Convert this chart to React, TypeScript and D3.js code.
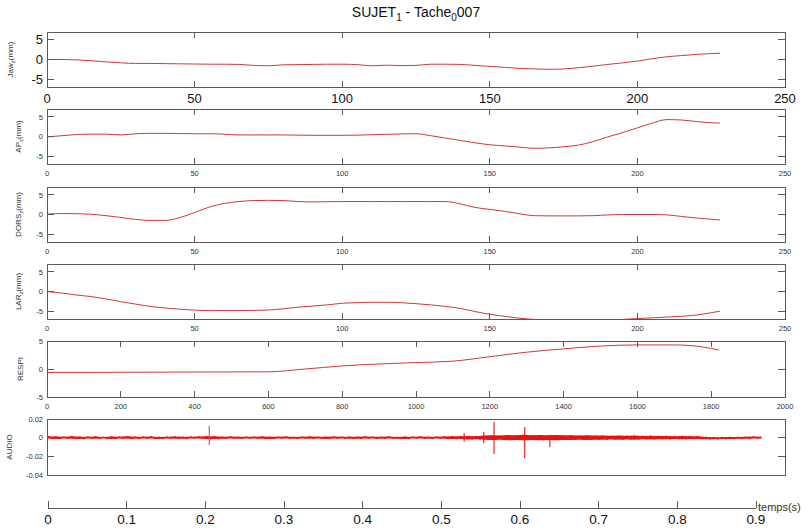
import React from "react";
import * as d3 from "d3";

// ---------- data ----------
const frames = [0, 5, 10, 15, 20, 25, 30, 35, 40, 45, 50, 55, 60, 65, 70, 75, 80, 85, 90, 95, 100, 105, 110, 115, 120, 125, 130, 135, 140, 145, 150, 155, 160, 165, 170, 175, 180, 185, 190, 195, 200, 205, 210, 215, 220, 225, 228];
const jawZ = [0, 0, -0.1, -0.3, -0.6, -0.85, -1.0, -1.0, -1.05, -1.1, -1.15, -1.2, -1.2, -1.25, -1.5, -1.6, -1.35, -1.3, -1.25, -1.2, -1.2, -1.3, -1.6, -1.45, -1.55, -1.5, -1.2, -1.2, -1.25, -1.5, -1.75, -2.0, -2.25, -2.4, -2.5, -2.4, -2.1, -1.7, -1.25, -0.85, -0.4, 0.2, 0.7, 1.0, 1.3, 1.5, 1.6];
const apZ = [-0.1, 0.2, 0.5, 0.6, 0.6, 0.4, 0.7, 0.8, 0.8, 0.75, 0.7, 0.7, 0.6, 0.4, 0.4, 0.4, 0.4, 0.35, 0.3, 0.3, 0.3, 0.35, 0.45, 0.55, 0.65, 0.7, 0.2, -0.4, -1.0, -1.6, -2.1, -2.4, -2.7, -3.0, -2.9, -2.6, -2.2, -1.3, -0.1, 1.0, 2.2, 3.4, 4.3, 4.2, 3.8, 3.5, 3.4];
const dorsZ = [0.1, 0.25, 0.2, 0.05, -0.3, -0.75, -1.25, -1.5, -1.5, -0.8, 0.5, 1.9, 2.8, 3.3, 3.55, 3.6, 3.55, 3.3, 3.2, 3.25, 3.3, 3.3, 3.3, 3.3, 3.3, 3.3, 3.3, 3.3, 2.7, 1.8, 1.3, 0.8, 0.2, -0.3, -0.35, -0.35, -0.35, -0.3, -0.1, 0, 0, 0, -0.1, -0.5, -0.9, -1.2, -1.4];
const larZ = [0, -0.4, -0.9, -1.3, -1.9, -2.6, -3.2, -3.8, -4.2, -4.5, -4.75, -4.85, -4.85, -4.85, -4.8, -4.7, -4.4, -4.0, -3.7, -3.4, -3.0, -2.85, -2.75, -2.75, -2.85, -3.1, -3.4, -3.8, -4.3, -5.1, -5.8, -6.3, -6.8, -7.1, -7.4, -7.6, -7.7, -7.6, -7.4, -7.1, -6.9, -6.7, -6.5, -6.3, -6.0, -5.4, -5.0];

const respiSamples = [0, 100, 200, 300, 400, 500, 600, 700, 800, 900, 1000, 1100, 1200, 1300, 1400, 1500, 1600, 1700, 1780, 1820];
const respiValues = [-0.6, -0.6, -0.58, -0.56, -0.54, -0.52, -0.5, 0.0, 0.55, 0.9, 1.15, 1.4, 2.2, 3.0, 3.6, 4.1, 4.3, 4.3, 3.9, 3.4];

// audio envelope (units of 0.001), sampled evenly from audioStart to audioEnd
const audioStart = 0;
const audioEnd = 0.907;
const audioHigh = [
  1.5, 1.2, 1.0, 1.6, 0.9, 1.1, 1.3, 0.8, 1.2, 1.0,
  1.4, 0.9, 1.1, 1.3, 0.8, 1.0, 1.2, 0.9, 1.1, 1.3,
  1.6, 1.5, 1.0, 1.2, 0.9, 1.1, 1.0, 1.3, 0.9, 1.0,
  1.2, 0.8, 1.1, 1.3, 0.9, 1.0, 1.2, 0.9, 1.1, 1.0,
  1.3, 0.9, 1.0, 1.2, 0.8, 1.1, 1.0, 1.2, 0.9, 1.1,
  1.3, 1.4, 1.6, 1.8, 1.5, 2.2, 2.6, 2.4, 2.8, 2.5,
  3.0, 2.7, 2.9, 2.6, 2.8, 2.5, 2.7, 2.3, 2.5, 2.2,
  2.4, 2.1, 2.3, 2.0, 2.2, 1.9, 2.0, 1.7, 1.9, 1.6,
  1.8, 1.5, 1.4, 0.6, 0.4, 0.5, 0.7, 0.8, 1.0, 1.2,
  1.0,
];
const audioLow = [
  -1.0, -1.3, -0.9, -1.2, -1.4, -0.8, -1.1, -1.0, -1.3, -0.9,
  -1.1, -1.2, -0.8, -1.0, -1.3, -0.9, -1.1, -1.2, -0.9, -1.0,
  -1.3, -1.4, -1.1, -0.9, -1.2, -1.0, -0.8, -1.1, -1.3, -0.9,
  -1.0, -1.2, -0.9, -1.1, -0.8, -1.3, -1.0, -0.9, -1.2, -1.1,
  -0.9, -1.0, -1.2, -0.8, -1.1, -1.3, -0.9, -1.0, -1.2, -0.9,
  -1.2, -1.5, -1.4, -1.9, -1.6, -2.3, -2.5, -2.2, -2.7, -2.4,
  -2.8, -2.6, -2.9, -2.5, -2.7, -2.4, -2.6, -2.2, -2.4, -2.1,
  -2.3, -2.0, -2.2, -1.9, -2.1, -1.8, -1.9, -1.6, -1.8, -1.5,
  -1.7, -1.4, -1.3, -1.6, -1.7, -1.5, -1.3, -1.1, -1.2, -1.0,
  -0.9,
];
const spikeTimes = [0.205, 0.529, 0.554, 0.567, 0.606, 0.638];
const spikeHigh = [0.0125, 0.005, 0.006, 0.017, 0.0115, 0.003];
const spikeLow = [-0.008, -0.004, -0.006, -0.0175, -0.022, -0.01];

const frameTicks = [0, 50, 100, 150, 200, 250];
const respiTicks = [0, 200, 400, 600, 800, 1000, 1200, 1400, 1600, 1800, 2000];
const mmTicks = [-5, 0, 5];
const respiYTicks = [-5, 0, 5];
const audioYTicks = [-0.04, -0.02, 0, 0.02];
const timeTicks = [0, 0.1, 0.2, 0.3, 0.4, 0.5, 0.6, 0.7, 0.8, 0.9];

// ---------- layout / style ----------
const FONT = "'Liberation Sans', Arial, Helvetica, sans-serif";
const LEFT = 47;
const RIGHT = 785;
const AXIS_COLOR = "#5a5a5a";
const LINE_COLOR = "#d03838";
const AUDIO_COLOR = "#ee1010";

const xFrames = d3.scaleLinear().domain([0, 250]).range([LEFT, RIGHT]);
const xRespi = d3.scaleLinear().domain([0, 2000]).range([LEFT, RIGHT]);
const xTime = d3.scaleLinear().domain([0, 0.9]).range([LEFT + 1, 756]);

type PanelProps = {
  id: string;
  top: number;
  bottom: number;
  x: d3.ScaleLinear<number, number>;
  yDomain: [number, number];
  xTicks: number[];
  yTicks: number[];
  big?: boolean;
  label: React.ReactNode;
  labelX: number;
  render: (y: d3.ScaleLinear<number, number>) => React.ReactNode;
};

function Panel(p: PanelProps) {
  const y = d3.scaleLinear().domain(p.yDomain).range([p.bottom, p.top]);
  const fs = p.big ? 13 : 7.5;
  const h = p.bottom - p.top;
  return (
    <g>
      <clipPath id={p.id}>
        <rect x={LEFT} y={p.top} width={RIGHT - LEFT} height={h} />
      </clipPath>
      <g clipPath={`url(#${p.id})`}>{p.render(y)}</g>
      <rect x={LEFT} y={p.top} width={RIGHT - LEFT} height={h} fill="none" stroke={AXIS_COLOR} strokeWidth={1} shapeRendering="crispEdges" />
      {p.xTicks.map((v) => (
        <g key={"x" + v}>
          <line x1={p.x(v)} x2={p.x(v)} y1={p.bottom} y2={p.bottom - 6} stroke={AXIS_COLOR} shapeRendering="crispEdges" />
          <line x1={p.x(v)} x2={p.x(v)} y1={p.top} y2={p.top + 6} stroke={AXIS_COLOR} shapeRendering="crispEdges" />
          <text x={p.x(v)} y={p.bottom + (p.big ? 16 : 12)} fontSize={fs} textAnchor="middle" fill={p.big ? "#111" : "#333"}>
            {String(v)}
          </text>
        </g>
      ))}
      {p.yTicks.map((v) => (
        <g key={"y" + v}>
          <line x1={LEFT} x2={LEFT + 7} y1={y(v)} y2={y(v)} stroke={AXIS_COLOR} shapeRendering="crispEdges" />
          <line x1={RIGHT} x2={RIGHT - 7} y1={y(v)} y2={y(v)} stroke={AXIS_COLOR} shapeRendering="crispEdges" />
          <text x={43} y={y(v) + (p.big ? 4.6 : 2.7)} fontSize={fs} textAnchor="end" fill={p.big ? "#111" : "#333"}>
            {String(v)}
          </text>
        </g>
      ))}
      <text transform={`translate(${p.labelX},${(p.top + p.bottom) / 2}) rotate(-90)`} fontSize={8} textAnchor="middle" fill="#333">
        {p.label}
      </text>
    </g>
  );
}

function mmLabel(name: string) {
  return (
    <>
      {name}
      <tspan dy={2} fontSize={6}>z</tspan>
      <tspan dy={-2}>(mm)</tspan>
    </>
  );
}

function framePath(values: number[]) {
  return (y: d3.ScaleLinear<number, number>) => {
    const line = d3
      .line<number>()
      .x((_, i) => xFrames(frames[i]))
      .y((d) => y(d))
      .curve(d3.curveMonotoneX);
    return <path d={line(values) || ""} fill="none" stroke={LINE_COLOR} strokeWidth={1} />;
  };
}

function respiPath(y: d3.ScaleLinear<number, number>) {
  const line = d3
    .line<number>()
    .x((_, i) => xRespi(respiSamples[i]))
    .y((d) => y(d))
    .curve(d3.curveMonotoneX);
  return <path d={line(respiValues) || ""} fill="none" stroke={LINE_COLOR} strokeWidth={1} />;
}

function audioPath(y: d3.ScaleLinear<number, number>) {
  const n = audioHigh.length;
  const tAt = d3.scaleLinear().domain([0, n - 1]).range([audioStart, audioEnd]);
  const half = (audioEnd - audioStart) / (n - 1) / 2;
  const area = d3
    .area<number>()
    .x((_, i) => xTime(tAt(i)))
    .y0((_, i) => y(audioLow[i] / 1000))
    .y1((d) => y(d / 1000));
  const zig: [number, number][] = [];
  audioHigh.forEach((hv, i) => {
    zig.push([xTime(tAt(i)), y(hv / 1000)]);
    if (i < n - 1) zig.push([xTime(tAt(i) + half), y(audioLow[i] / 1000)]);
  });
  const zl = d3.line();
  return (
    <g>
      <path d={area(audioHigh) || ""} fill={AUDIO_COLOR} stroke="none" />
      <path d={zl(zig) || ""} fill="none" stroke={AUDIO_COLOR} strokeWidth={0.9} />
      {spikeTimes.map((t, i) => (
        <line key={i} x1={xTime(t)} x2={xTime(t)} y1={y(spikeHigh[i])} y2={y(spikeLow[i])} stroke={i === 0 ? "#c8505a" : AUDIO_COLOR} strokeWidth={1.1} />
      ))}
    </g>
  );
}

export default function App() {
  return (
    <svg width={810} height={529} viewBox="0 0 810 529" style={{ position: "absolute", left: 0, top: 0, background: "#fff", fontFamily: FONT }}>
      <rect x={0} y={0} width={810} height={529} fill="#fff" />
      <text x={416} y={17} fontSize={14} textAnchor="middle" fill="#111">
        SUJET<tspan dy={4} fontSize={10}>1</tspan>
        <tspan dy={-4}> - Tache</tspan>
        <tspan dy={4} fontSize={10}>0</tspan>
        <tspan dy={-4}>007</tspan>
      </text>

      <Panel id="c1" top={32} bottom={87} x={xFrames} yDomain={[-7, 7]} xTicks={frameTicks} yTicks={mmTicks} big label={mmLabel("Jaw")} labelX={13} render={framePath(jawZ)} />
      <Panel id="c2" top={109} bottom={164} x={xFrames} yDomain={[-7, 7]} xTicks={frameTicks} yTicks={mmTicks} label={mmLabel("AP")} labelX={21} render={framePath(apZ)} />
      <Panel id="c3" top={187} bottom={242} x={xFrames} yDomain={[-7, 7]} xTicks={frameTicks} yTicks={mmTicks} label={mmLabel("DORS")} labelX={21} render={framePath(dorsZ)} />
      <Panel id="c4" top={264} bottom={319} x={xFrames} yDomain={[-7, 7]} xTicks={frameTicks} yTicks={mmTicks} label={mmLabel("LAR")} labelX={21} render={framePath(larZ)} />
      <Panel id="c5" top={341} bottom={397} x={xRespi} yDomain={[-5, 5]} xTicks={respiTicks} yTicks={respiYTicks} label={"RESPI"} labelX={23} render={respiPath} />
      <Panel id="c6" top={419} bottom={475} x={xTime} yDomain={[-0.04, 0.02]} xTicks={[]} yTicks={audioYTicks} label={"AUDIO"} labelX={12} render={audioPath} />

      <g>
        <line x1={xTime(0)} x2={xTime(0.9)} y1={508} y2={508} stroke={AXIS_COLOR} shapeRendering="crispEdges" />
        {timeTicks.map((t) => (
          <g key={t}>
            <line x1={xTime(t)} x2={xTime(t)} y1={508} y2={501} stroke={AXIS_COLOR} shapeRendering="crispEdges" />
            <text x={xTime(t)} y={524} fontSize={13.5} textAnchor="middle" fill="#111">
              {String(t)}
            </text>
          </g>
        ))}
        <text x={758} y={511} fontSize={11} fill="#333">temps(s)</text>
      </g>
    </svg>
  );
}
